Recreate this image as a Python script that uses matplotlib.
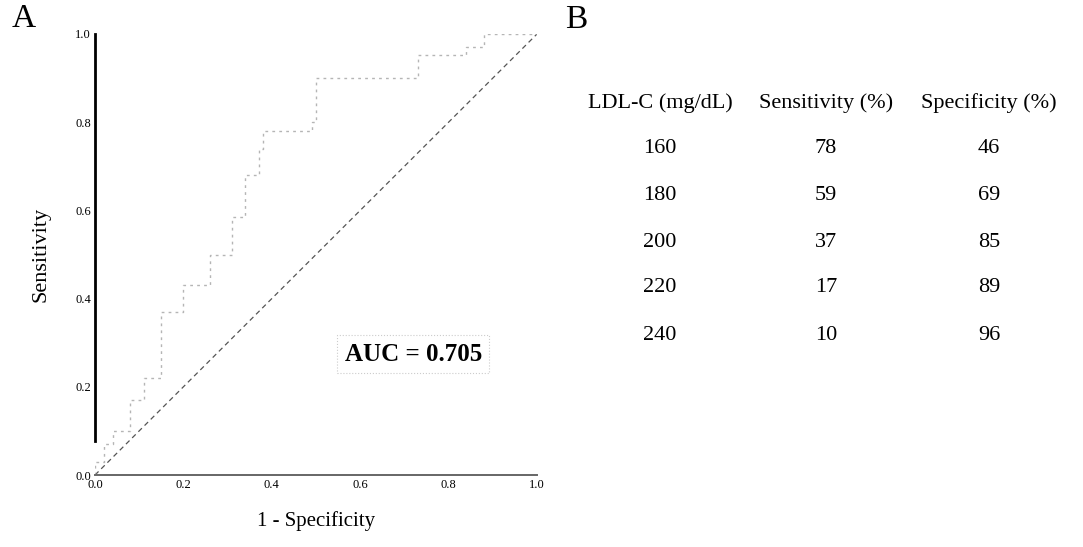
# plot.py | ROC curve for LDL-C with cut-off table
# ------------------------------------------------------------------------------
import matplotlib
matplotlib.use("Agg")
import matplotlib.pyplot as plt

plt.rcParams["font.family"] = ["Liberation Serif", "DejaVu Serif"]

# -----------------------------------------------------------------------------#
# 0  Data
# -----------------------------------------------------------------------------#
roc_fpr = [0.00, 0.00, 0.02, 0.02, 0.04, 0.04, 0.08, 0.08, 0.11, 0.11, 0.15, 0.15,
           0.20, 0.20, 0.26, 0.26, 0.31, 0.31, 0.34, 0.34, 0.37, 0.37, 0.38, 0.38,
           0.49, 0.49, 0.50, 0.50, 0.73, 0.73, 0.84, 0.84, 0.88, 0.88, 1.00]
roc_tpr = [0.00, 0.03, 0.03, 0.07, 0.07, 0.10, 0.10, 0.17, 0.17, 0.22, 0.22, 0.37,
           0.37, 0.43, 0.43, 0.50, 0.50, 0.585, 0.585, 0.68, 0.68, 0.74, 0.74, 0.78,
           0.78, 0.80, 0.80, 0.90, 0.90, 0.953, 0.953, 0.97, 0.97, 1.00, 1.00]
auc_value = 0.705

tick_values = [0.0, 0.2, 0.4, 0.6, 0.8, 1.0]

table_header = ["LDL-C (mg/dL)", "Sensitivity (%)", "Specificity (%)"]
ldl_cutoffs = [160, 180, 200, 220, 240]
sensitivity = [78, 59, 37, 17, 10]
specificity = [46, 69, 85, 89, 96]

# -----------------------------------------------------------------------------#
# 1  Figure
# -----------------------------------------------------------------------------#
W, H = 1083, 547
fig = plt.figure(figsize=(W / 100, H / 100), dpi=100)

# panel A: ROC curve
ax = fig.add_axes([95 / W, 1 - 475 / H, 442 / W, 441 / H])
ax.plot([0, 1], [0, 1], color="#555555", lw=0.9, ls=(0, (4, 3)))
ax.plot(roc_fpr, roc_tpr, color="#b5b5b5", lw=1.0, ls=(0, (2, 3)))
ax.set_xlim(0, 1)
ax.set_ylim(0, 1)

ax.set_xticks(tick_values)
ax.set_yticks(tick_values)
ax.set_xticklabels([f"{v:.1f}" for v in tick_values])
ax.set_yticklabels([f"{v:.1f}" for v in tick_values])
ax.tick_params(length=0, labelsize=9, pad=3)

for s in ("top", "right"):
    ax.spines[s].set_visible(False)
ax.spines["left"].set_linewidth(2.0)
ax.spines["left"].set_bounds(0.077, 1.0)
ax.spines["bottom"].set_color("#666666")
ax.spines["bottom"].set_linewidth(1.4)

ax.set_xlabel("1 - Specificity", fontsize=15, labelpad=14)
ax.set_ylabel("Sensitivity", fontsize=16, labelpad=18)

ax.text(0.720, 0.274, f"AUC = {auc_value:.3f}", fontsize=18, ha="center",
        va="center", fontweight="bold",
        bbox=dict(boxstyle="square,pad=0.3", fc="white", ec="#cccccc",
                  lw=0.8, ls=":"))

fig.text(12 / W, 1 - 19 / H, "A", fontsize=24, va="center", ha="left")
fig.text(565 / W, 1 - 20 / H, "B", fontsize=24, va="center", ha="left")

# panel B: cut-off table
col_x = [660, 826, 989]
header_y = 103
row_y = [148, 195, 242, 288, 335]
for x, label in zip(col_x, table_header):
    fig.text(x / W, 1 - header_y / H, label, fontsize=16, ha="center", va="center")
for i, y in enumerate(row_y):
    cells = [ldl_cutoffs[i], sensitivity[i], specificity[i]]
    for x, val in zip(col_x, cells):
        fig.text(x / W, 1 - y / H, str(val), fontsize=16, ha="center", va="center")

fig.savefig("out.png", dpi=100, facecolor="white")
